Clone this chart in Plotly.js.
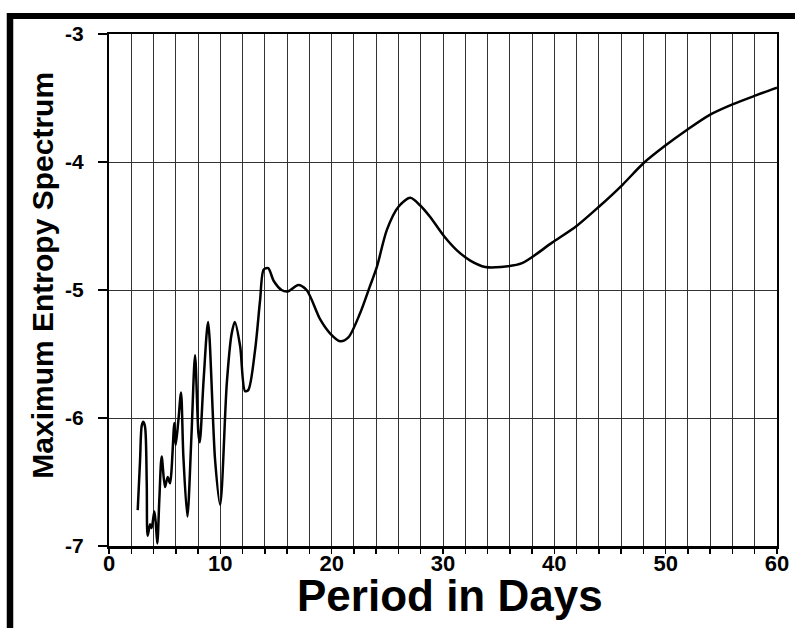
<!DOCTYPE html>
<html>
<head>
<meta charset="utf-8">
<script src="https://cdn.plot.ly/plotly-3.0.1.min.js"></script>
<style>
  html, body { margin: 0; padding: 0; background: #ffffff; }
  #chart { width: 795px; height: 628px; }
</style>
</head>
<body>
<div id="chart"></div>
<script>
// Period in days (x) and maximum entropy spectrum (y)
const periodDays = [
  2.58, 2.79, 2.94, 3.08, 3.24, 3.39, 3.47, 3.69, 3.83, 4.07,
  4.19, 4.34, 4.52, 4.73, 5.03, 5.27, 5.48, 5.87, 5.99, 6.23,
  6.47, 6.68, 7.04, 7.40, 7.73, 8.03, 8.15, 8.50, 8.90, 9.53,
  9.98, 10.58, 11.00, 11.30, 11.78, 12.22, 12.52, 13.12, 13.57, 13.90,
  14.30, 14.80, 15.50, 16.10, 17.00, 17.75, 18.97, 19.87, 20.76, 21.50,
  22.56, 23.40, 24.06, 24.96, 26.00, 27.06, 27.96, 28.85, 30.10, 31.25,
  32.45, 33.80, 35.20, 37.10, 39.80, 42.00, 44.00, 46.10, 48.00, 50.00,
  51.90, 54.00, 56.00, 58.10, 60.00
];
const spectrum = [
  -6.72, -6.33, -6.06, -6.03, -6.07, -6.51, -6.92, -6.83, -6.86, -6.73,
  -6.81, -6.98, -6.64, -6.30, -6.54, -6.46, -6.51, -6.04, -6.21, -6.02,
  -5.80, -6.30, -6.77, -6.15, -5.51, -6.12, -6.19, -5.70, -5.25, -6.33,
  -6.68, -5.73, -5.35, -5.25, -5.44, -5.79, -5.78, -5.47, -5.08, -4.84,
  -4.83, -4.93, -5.00, -5.01, -4.96, -5.00, -5.23, -5.34, -5.40, -5.37,
  -5.18, -4.98, -4.82, -4.53, -4.35, -4.28, -4.34, -4.43, -4.58, -4.69,
  -4.77, -4.82, -4.82, -4.79, -4.63, -4.50, -4.35, -4.18, -4.01, -3.87,
  -3.75, -3.63, -3.55, -3.48, -3.42
];
const xTickValues = [0, 10, 20, 30, 40, 50, 60];
const yTickValues = [-7, -6, -5, -4, -3];
const xTitle = 'Period in Days';
const yTitle = 'Maximum Entropy Spectrum';

const boldFont = { family: 'Liberation Sans, Arial, sans-serif', color: '#000000', weight: 'bold' };

const trace = {
  x: periodDays,
  y: spectrum,
  type: 'scatter',
  mode: 'lines',
  line: { color: '#000000', width: 2.5, shape: 'spline', smoothing: 0.8 },
  hoverinfo: 'x+y'
};

const layout = {
  width: 795,
  height: 628,
  margin: { l: 109, r: 18, t: 34, b: 82 },
  paper_bgcolor: '#ffffff',
  plot_bgcolor: '#ffffff',
  showlegend: false,
  xaxis: {
    range: [0, 60],
    tickmode: 'array',
    tickvals: xTickValues,
    ticktext: xTickValues.map(String),
    ticks: 'outside',
    ticklen: 5,
    tickwidth: 1.5,
    tickcolor: '#000000',
    ticklabelstandoff: -9,
    showgrid: true,
    gridcolor: '#333333',
    gridwidth: 1,
    minor: { dtick: 2, showgrid: true, gridcolor: '#333333', gridwidth: 1, ticks: 'outside', ticklen: 5, tickcolor: '#000000' },
    showline: true,
    linecolor: '#000000',
    linewidth: 2.5,
    mirror: true,
    zeroline: false,
    tickfont: Object.assign({ size: 22 }, boldFont)
  },
  yaxis: {
    range: [-7, -3],
    tickmode: 'array',
    tickvals: yTickValues,
    ticktext: yTickValues.map(String),
    ticks: 'outside',
    ticklen: 9,
    tickwidth: 1.5,
    tickcolor: '#000000',
    showgrid: true,
    gridcolor: '#333333',
    gridwidth: 1,
    showline: true,
    linecolor: '#000000',
    linewidth: 2,
    mirror: true,
    zeroline: false,
    ticklabelstandoff: 10,
    tickfont: Object.assign({ size: 21 }, boldFont)
  },
  annotations: [
    {
      text: yTitle, xref: 'paper', yref: 'paper', x: -0.0995, y: 0.529,
      xanchor: 'center', yanchor: 'middle', textangle: -90, showarrow: false,
      font: Object.assign({ size: 30 }, boldFont)
    },
    {
      text: xTitle, xref: 'paper', yref: 'paper', x: 0.5105, y: -0.0965,
      xanchor: 'center', yanchor: 'middle', showarrow: false,
      font: Object.assign({ size: 44 }, boldFont)
    }
  ],
  shapes: [
    { type: 'line', xref: 'paper', yref: 'paper', x0: -0.1527, x1: 1.03, y0: 1.0352, y1: 1.0352, line: { color: '#000000', width: 6 } },
    { type: 'line', xref: 'paper', yref: 'paper', x0: -0.1482, x1: -0.1482, y0: 1.041, y1: -0.17, line: { color: '#000000', width: 6.5 } }
  ]
};

Plotly.newPlot('chart', [trace], layout, { displayModeBar: false, staticPlot: true });
</script>
</body>
</html>
